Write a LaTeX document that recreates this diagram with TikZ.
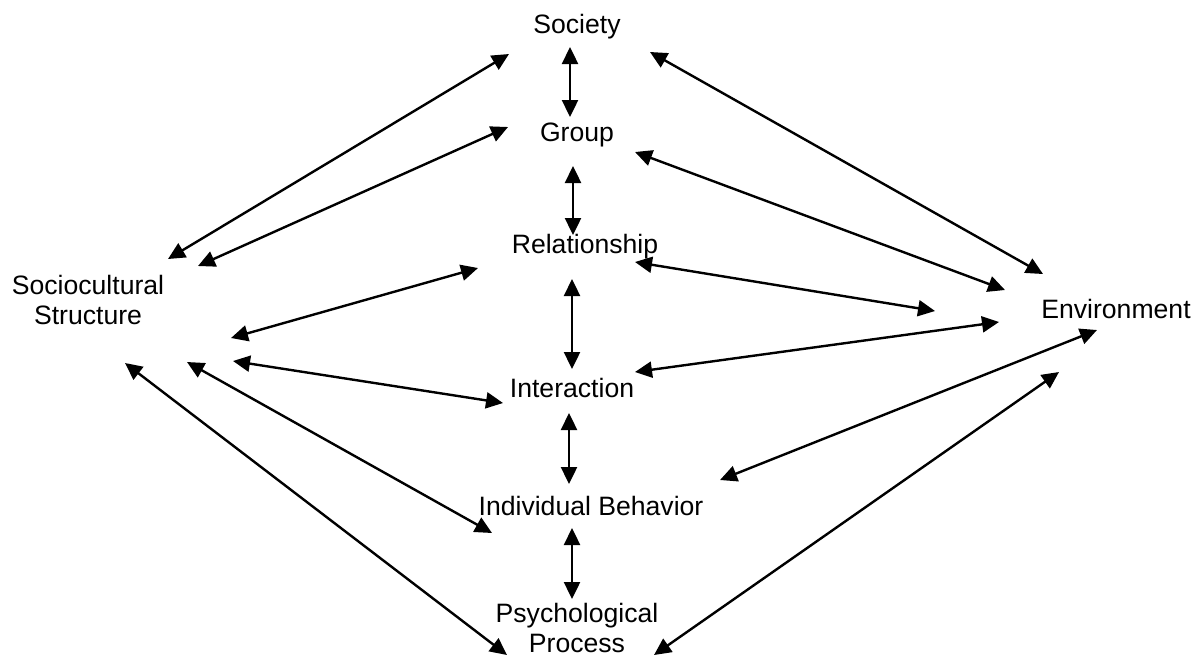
\documentclass[tikz,border=0pt]{standalone}
\usepackage{fontspec}
\setmainfont{Liberation Sans}
\usetikzlibrary{arrows.meta,calc}
\begin{document}
\begin{tikzpicture}[x=0.5pt,y=-0.5pt,
  lbl/.style={inner sep=0pt,font=\fontsize{13.3}{15}\selectfont,align=center,anchor=base},
  link/.style={line width=1.2pt,{Triangle[length=8.5pt,width=8pt]}-{Triangle[length=8.5pt,width=8pt]}}]
\useasboundingbox (0,0) rectangle (1202,660);
\node[lbl] (soc) at (577,33) {Society};
\node[lbl] (grp) at (577,141) {Group};
\node[lbl] (rel) at (585,253) {Relationship};
\node[lbl] (int) at (572,397) {Interaction};
\node[lbl] (ind) at (591,515) {Individual Behavior};
\node[lbl] (psy) at (577,652) {Psychological\\Process};
\node[lbl] (sc) at (88,324) {Sociocultural\\Structure};
\node[lbl] (env) at (1116,318) {Environment};
\coordinate (free) at ($(env.base)+(-181,-7)$);
% vertical chain
\draw[link] ($(soc.base)+(-7,14)$) -- ($(grp.base)+(-7,-24)$);
\draw[link] ($(grp.base)+(-4,25)$) -- ($(rel.base)+(-12,-18)$);
\draw[link] ($(rel.base)+(-13,26)$) -- ($(int.base)+(0,-28)$);
\draw[link] ($(int.base)+(-3,16)$) -- ($(ind.base)+(-22,-31)$);
\draw[link] ($(ind.base)+(-19,13)$) -- ($(psy.base)+(-5,-53)$);
% sociocultural structure
\draw[link] ($(sc.base)+(80,-65)$) -- ($(soc.base)+(-68,21)$);
\draw[link] ($(sc.base)+(110,-58)$) -- ($(grp.base)+(-69,-14)$);
\draw[link] ($(sc.base)+(143,14)$) -- ($(rel.base)+(-107,15)$);
\draw[link] ($(sc.base)+(145,37)$) -- ($(int.base)+(-69,6)$);
\draw[link] ($(sc.base)+(99,38)$) -- ($(ind.base)+(-99,18)$);
\draw[link] ($(sc.base)+(37,39)$) -- ($(psy.base)+(-70,3)$);
% environment
\draw[link] ($(soc.base)+(73,19)$) -- ($(env.base)+(-73,-44)$);
\draw[link] ($(grp.base)+(58,11)$) -- ($(env.base)+(-111,-28)$);
\draw[link] ($(rel.base)+(50,9)$) -- (free);
\draw[link] ($(int.base)+(63,-25)$) -- ($(env.base)+(-117,4)$);
\draw[link] ($(ind.base)+(129,-35)$) -- ($(env.base)+(-19,12)$);
\draw[link] ($(psy.base)+(77,3)$) -- ($(env.base)+(-57,54)$);
\end{tikzpicture}
\end{document}
